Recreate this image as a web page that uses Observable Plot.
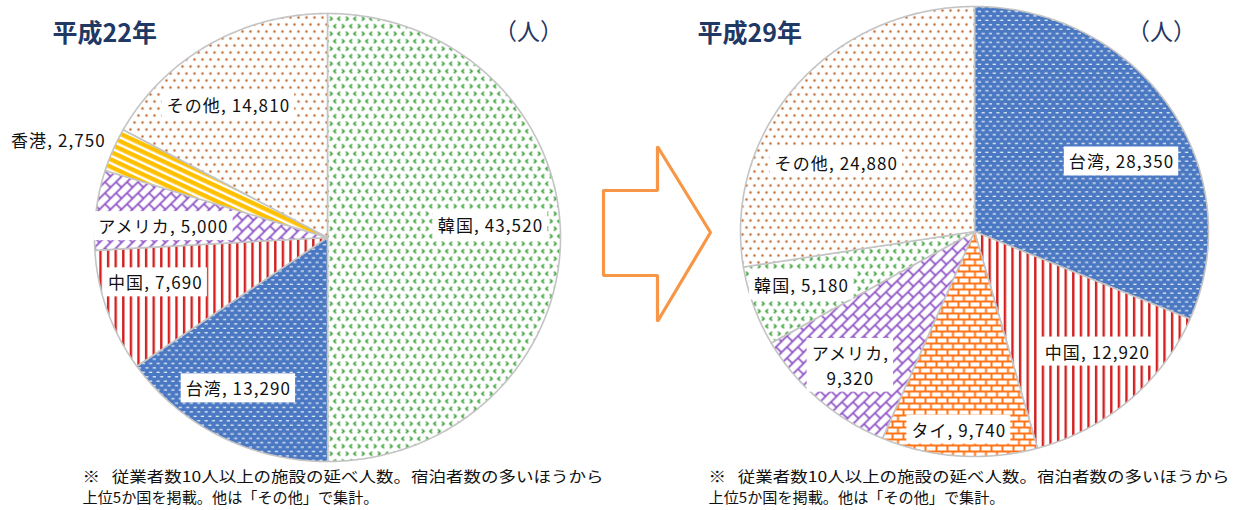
<!DOCTYPE html>
<html><head><meta charset="utf-8">
<script src="https://cdn.jsdelivr.net/npm/d3@7"></script>
<script src="https://cdn.jsdelivr.net/npm/@observablehq/plot@0.6"></script>
<style>body{margin:0;background:#fff;}</style>
</head><body><div id="chart"></div>
<script>
// ---- data ----
const countries22 = ["韓国", "台湾", "中国", "アメリカ", "香港", "その他"];
const values22 = [43520, 13290, 7690, 5000, 2750, 14810];
const countries29 = ["台湾", "中国", "タイ", "アメリカ", "韓国", "その他"];
const values29 = [28350, 12920, 9740, 9320, 5180, 24880];
const titles = ["平成22年", "平成29年"];
const unitLabel = "（人）";
const noteLines = ["※   従業者数10人以上の施設の延べ人数。宿泊者数の多いほうから", "上位5か国を掲載。他は「その他」で集計。"];

// ---- layout / style ----
const W = 1234, H = 510;
const patternOf = {"韓国": "korea", "台湾": "taiwan", "中国": "china", "アメリカ": "usa", "香港": "hk", "タイ": "thai", "その他": "other"};
const pies = [
  {id: "a", names: countries22, values: values22, cx: 327, cy: 237, rx: 233, ry: 224,
   labelR: [0.702, 0.771, 0.764, 0.706, 1.235, 0.730], nudge: [-4.7, 2.3, 4.3, -2.6, -2.3, -5],
   breakAt: [], titleX: 52, unitX: 528, noteX: 82},
  {id: "b", names: countries29, values: values29, cx: 974, cy: 231, rx: 234, ry: 225,
   labelR: [0.703, 0.746, 0.879, 0.794, 0.776, 0.667], nudge: [6.9, -3.4, 0.6, 0.2, 1.7, -12.7],
   breakAt: ["アメリカ"], titleX: 697, unitX: 1161, noteX: 708}
];
const noteWidths = [521, 296];
const arrowShape = [[603,190],[657,190],[657,146],[710,232],[657,321],[657,275],[603,275],[603,190]];

const fmt = d3.format(",");
const rad = Math.PI / 180;
const sliceRows = [], labelRows = [];
for (const p of pies) {
  const arcs = d3.pie().sort(null).value(d => d)(p.values);
  arcs.forEach((a, i) => {
    const name = p.names[i];
    const key = p.id + i;
    const fill = `url(#pat-${patternOf[name]})`;
    const n = Math.max(2, Math.ceil((a.endAngle - a.startAngle) / (0.5 * rad)));
    sliceRows.push({key, fill, x: p.cx, y: p.cy});
    for (let k = 0; k <= n; k++) {
      const t = a.startAngle + (a.endAngle - a.startAngle) * k / n;
      sliceRows.push({key, fill, x: p.cx + p.rx * Math.sin(t), y: p.cy - p.ry * Math.cos(t)});
    }
    sliceRows.push({key, fill, x: p.cx, y: p.cy});
    const mid = (a.startAngle + a.endAngle) / 2 + p.nudge[i] * rad;
    const r = p.labelR[i];
    const sep = p.breakAt.includes(name) ? ",\n" : ", ";
    labelRows.push({x: p.cx + p.rx * r * Math.sin(mid), y: p.cy - p.ry * r * Math.cos(mid), text: name + sep + fmt(p.values[i]), box: r < 1});
  });
}
const titleRows = pies.map((p, i) => ({x: p.titleX, y: 33, text: titles[i]}));
const unitRows = pies.map(p => ({x: p.unitX, y: 32, text: unitLabel}));
const noteRows = pies.flatMap(p => noteLines.map((t, j) => ({x: p.noteX, y: 477 + j * 21, text: t, w: noteWidths[j]})));

function patterns() {
  const defs = d3.create("svg:defs");
  const pat = (id, w, h, bg) => {
    const p = defs.append("pattern").attr("id", "pat-" + id).attr("patternUnits", "userSpaceOnUse").attr("width", w).attr("height", h);
    p.append("rect").attr("width", w).attr("height", h).attr("fill", bg);
    return p;
  };
  // 韓国: green chevrons
  let p = pat("korea", 16, 15, "#fff");
  p.append("path").attr("d", "M3.6,1.3 L1.4,3.2 L3.6,5.1 M9.4,1.3 L11.6,3.2 L9.4,5.1 M5.4,8.8 L7.6,10.7 L5.4,12.6 M15.6,8.8 L13.4,10.7 L15.6,12.6")
    .attr("fill", "none").attr("stroke", "#2f9a2f").attr("stroke-width", 1.5);
  // 台湾: blue with white dashes
  p = pat("taiwan", 7.4, 8.8, "#4a78c2");
  p.append("rect").attr("x", 0.6).attr("y", 1.6).attr("width", 3.2).attr("height", 1.3).attr("fill", "#e8eef8");
  p.append("rect").attr("x", 4.3).attr("y", 6).attr("width", 3.2).attr("height", 1.3).attr("fill", "#e8eef8");
  // 中国: red vertical stripes
  p = pat("china", 7.6, 10, "#fff");
  p.append("rect").attr("x", 0).attr("width", 2.4).attr("height", 10).attr("fill", "#d42020");
  // アメリカ: purple diagonal brick
  p = pat("usa", 11, 11, "#fff");
  p.append("path").attr("d", "M-1,12 L12,-1 M5.5,5.5 L11,11 M-1,1 L1,-1 M10,12 L12,10")
    .attr("fill", "none").attr("stroke", "#8a4cc4").attr("stroke-width", 1.6);
  // 香港: yellow diagonal stripes
  p = pat("hk", 10, 6.8, "#fff").attr("patternTransform", "rotate(25)");
  p.append("rect").attr("width", 10).attr("height", 4.4).attr("fill", "#ffc000");
  // タイ: orange bricks
  p = pat("thai", 11, 12, "#fff");
  p.append("path").attr("d", "M0,1 H11 M0,7 H11 M1,1 V7 M6.5,7 V13 M6.5,-1 V1")
    .attr("fill", "none").attr("stroke", "#ff7418").attr("stroke-width", 2);
  // その他: brown dots
  p = pat("other", 8, 14, "#fff");
  p.append("circle").attr("cx", 2).attr("cy", 3).attr("r", 1.25).attr("fill", "#b9652f");
  p.append("circle").attr("cx", 6).attr("cy", 10).attr("r", 1.25).attr("fill", "#b9652f");
  return defs.node();
}

const chart = Plot.plot({
  width: W, height: H,
  margin: 0,
  x: {domain: [0, W], range: [0, W], axis: null},
  y: {domain: [0, H], range: [0, H], axis: null},
  color: {type: "identity"},
  style: {fontFamily: "'Noto Sans CJK JP', sans-serif", background: "#fff"},
  marks: [
    patterns,
    Plot.line(sliceRows, {x: "x", y: "y", z: "key", fill: "fill", stroke: "#c4c4c4", strokeWidth: 1.6, strokeLinejoin: "round", curve: "linear"}),
    Plot.line(arrowShape, {x: d => d[0], y: d => d[1], stroke: "#f79646", strokeWidth: 3.2, fill: "white", strokeLinejoin: "miter"}),
    Plot.text(labelRows, {x: "x", y: "y", text: "text", fontSize: 17, fill: "#111", lineHeight: 1.45}),
    Plot.text(titleRows, {x: "x", y: "y", text: "text", fontSize: 25, fontWeight: "bold", fill: "#1f3864", textAnchor: "start"}),
    Plot.text(unitRows, {x: "x", y: "y", text: "text", fontSize: 23, fill: "#1f3864"}),
    Plot.text(noteRows, {x: "x", y: "y", text: "text", fontSize: 15, fill: "#111", textAnchor: "start"})
  ]
});
document.getElementById("chart").appendChild(chart);

const flat = s => s.replace(/\n/g, "");
const labelByText = new Map(labelRows.map(d => [flat(d.text), d]));
const noteByText = new Map(noteRows.map(d => [d.text, d]));
d3.select(chart).selectAll("text").each(function() {
  const txt = this.textContent;
  if (labelByText.has(txt)) {
    this.style.letterSpacing = "1.1px";
    if (!labelByText.get(txt).box) return;
    const b = this.getBBox();
    const rect = document.createElementNS("http://www.w3.org/2000/svg", "rect");
    this.parentNode.insertBefore(rect, this);
    if (this.getAttribute("transform")) rect.setAttribute("transform", this.getAttribute("transform"));
    rect.setAttribute("x", b.x - 5); rect.setAttribute("y", b.y - 2);
    rect.setAttribute("width", b.width + 9); rect.setAttribute("height", b.height + 4);
    rect.setAttribute("fill", "#fff");
  } else if (noteByText.has(txt)) {
    this.setAttribute("textLength", noteByText.get(txt).w);
    this.setAttribute("lengthAdjust", "spacingAndGlyphs");
  }
});
</script>
</body></html>
